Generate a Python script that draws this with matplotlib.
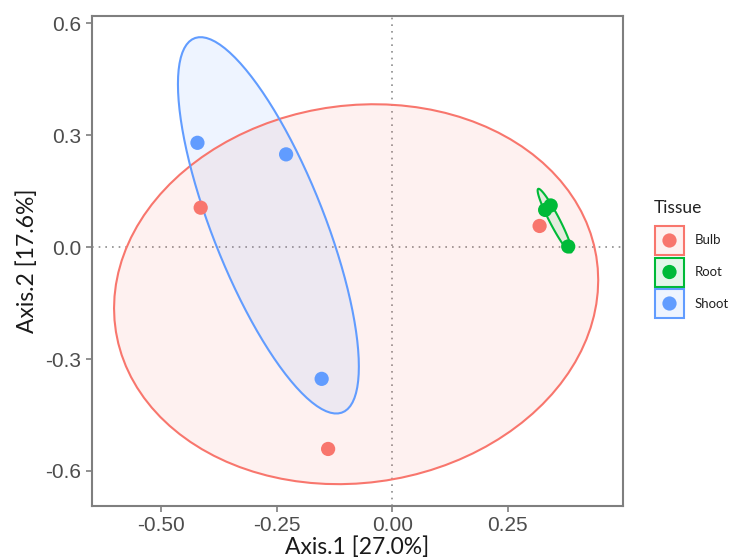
#!/usr/bin/env python3
import numpy as np
import matplotlib
matplotlib.use("Agg")
from matplotlib import pyplot as plt
from matplotlib.patches import Polygon, Rectangle

# PCoA scores per tissue
groups = ["Bulb", "Root", "Shoot"]
bulb_x = [-0.415, -0.139, 0.319]
bulb_y = [0.106, -0.541, 0.057]
root_x = [0.331, 0.343, 0.381]
root_y = [0.100, 0.112, 0.002]
shoot_x = [-0.422, -0.230, -0.153]
shoot_y = [0.280, 0.249, -0.353]

xticks = [-0.50, -0.25, 0.00, 0.25]
yticks = [-0.6, -0.3, 0.0, 0.3, 0.6]
xlabel = "Axis.1 [27.0%]"
ylabel = "Axis.2 [17.6%]"
legend_title = "Tissue"

colors = {"Bulb": "#F8766D", "Root": "#00BA38", "Shoot": "#619CFF"}
data = {"Bulb": (bulb_x, bulb_y), "Root": (root_x, root_y), "Shoot": (shoot_x, shoot_y)}

GREY = "#4D4D4D"
LEVEL = 0.5


def ellipse(x, y, level=LEVEL, segments=100):
    # same idea as ggplot2 stat_ellipse(type="norm")
    pts = np.column_stack([x, y])
    center = pts.mean(axis=0)
    shape = np.cov(pts, rowvar=False)
    chol = np.linalg.cholesky(shape).T
    # qf(level, 2, 2) has the closed form level/(1-level)
    radius = np.sqrt(2 * level / (1 - level))
    ang = np.linspace(0, 2 * np.pi, segments + 1)
    circle = np.column_stack([np.cos(ang), np.sin(ang)])
    return center + radius * circle @ chol


fig = plt.figure(figsize=(7.29, 5.60), dpi=100)
ax = fig.add_axes([0.1258, 0.0964, 0.7284, 0.875])

ax.axhline(0, color="#8c8c8c", ls=(0, (1, 3)), lw=1.2, zorder=1)
ax.axvline(0, color="#8c8c8c", ls=(0, (1, 3)), lw=1.2, zorder=1)

for g in groups:
    x, y = data[g]
    c = colors[g]
    e = ellipse(x, y)
    ax.add_patch(Polygon(e, closed=True, facecolor=c, alpha=0.1, edgecolor="none", zorder=2))
    ax.add_patch(Polygon(e, closed=True, facecolor="none", edgecolor=c, lw=1.5, zorder=3))
    ax.scatter(x, y, s=105, color=c, edgecolors="none", zorder=4)

ax.set_xlim(-0.651, 0.499)
ax.set_ylim(-0.694, 0.620)
ax.set_xticks(xticks)
ax.set_xticklabels(["%.2f" % v for v in xticks])
ax.set_yticks(yticks)
ax.set_yticklabels(["%.1f" % v for v in yticks])
ax.tick_params(colors="#7f7f7f", labelcolor=GREY, labelsize=15, length=4, width=1.2)
for lab in ax.get_xticklabels() + ax.get_yticklabels():
    lab.set_family("Liberation Sans")
for s in ax.spines.values():
    s.set_color("#7f7f7f")
    s.set_linewidth(1.5)

ax.set_xlabel(xlabel, fontsize=16.5, family="Lato", color="#1a1a1a", labelpad=1)
ax.set_ylabel(ylabel, fontsize=16.5, family="Lato", color="#1a1a1a", labelpad=5)

# legend drawn by hand so the keys look like ggplot's
lg = fig.add_axes([0, 0, 1, 1], facecolor="none")
lg.set_xlim(0, 729)
lg.set_ylim(560, 0)
lg.axis("off")
lg.text(654, 208, legend_title, fontsize=12.5, family="Lato", color="#222222", va="center")
for i, g in enumerate(groups):
    y0 = 226 + i * 31.5
    c = colors[g]
    lg.add_patch(Rectangle((655, y0), 29, 29, facecolor=c, alpha=0.1, edgecolor="none"))
    lg.add_patch(Rectangle((655, y0), 29, 29, facecolor="none", edgecolor=c, lw=1.5))
    lg.scatter([669.5], [y0 + 14.5], s=105, color=c, edgecolors="none")
    lg.text(695, y0 + 14.5, g, fontsize=9.5, family="Lato", color="#222222", va="center")

fig.savefig("out.png", dpi=100)
